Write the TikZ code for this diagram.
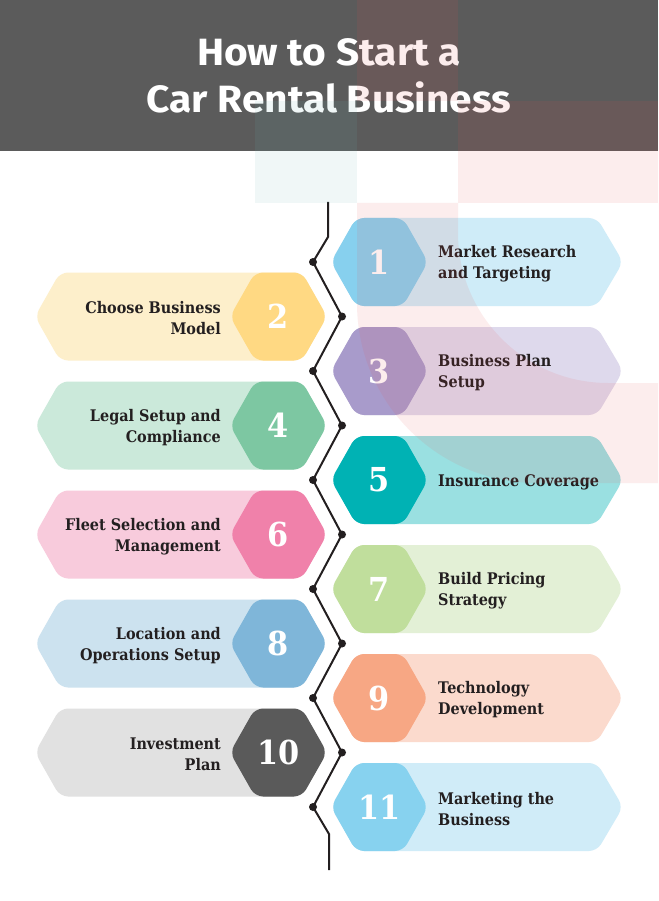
\documentclass[tikz,border=0pt]{standalone}
\usepackage{fontspec}
\newfontfamily\titlefont{Fira Sans}[FakeStretch=1.07]
\newfontfamily\labelfont{DejaVu Serif}[FakeStretch=0.9]
\newfontfamily\numfont{DejaVu Serif}[FakeStretch=0.92]
\definecolor{hdr}{HTML}{5B5B5B}
\definecolor{ink}{HTML}{231F20}
\definecolor{decopink}{RGB}{235,80,80}
\definecolor{decoteal}{RGB}{110,180,180}
\definecolor{nA}{HTML}{87D0EE}\definecolor{pA}{HTML}{CFECF8}
\definecolor{nB}{HTML}{FFD983}\definecolor{pB}{HTML}{FDEFCB}
\definecolor{nC}{HTML}{A89BCB}\definecolor{pC}{HTML}{DED9EC}
\definecolor{nD}{HTML}{7DC7A2}\definecolor{pD}{HTML}{CBE9DA}
\definecolor{nE}{HTML}{00B2B4}\definecolor{pE}{HTML}{9AE0E1}
\definecolor{nF}{HTML}{F081AA}\definecolor{pF}{HTML}{F8CBDC}
\definecolor{nG}{HTML}{C0DE9C}\definecolor{pG}{HTML}{E3F0D6}
\definecolor{nH}{HTML}{7FB6D9}\definecolor{pH}{HTML}{CCE2EF}
\definecolor{nI}{HTML}{F7A784}\definecolor{pI}{HTML}{FBDACD}
\definecolor{nJ}{HTML}{5A5A5A}\definecolor{pJ}{HTML}{E1E1E1}
\definecolor{nK}{HTML}{87D2EF}\definecolor{pK}{HTML}{D0ECF8}
\tikzset{
  hexshape/.style={rounded corners=8pt},
  numtxt/.style={text=white, inner sep=0pt, font=\numfont\bfseries\fontsize{33}{33}\selectfont},
  rlabel/.style={anchor=west, align=left, inner sep=0pt, text=ink, font=\labelfont\bfseries\fontsize{16}{21}\selectfont},
  llabel/.style={anchor=east, align=right, inner sep=0pt, text=ink, font=\labelfont\bfseries\fontsize{16}{21}\selectfont},
  titletxt/.style={text=white, inner sep=0pt, anchor=base, font=\titlefont\bfseries\fontsize{38}{38}\selectfont},
  zigline/.style={draw=ink, line width=2pt},
  dotmark/.style={fill=ink},
  deco/.style={fill opacity=0.1}
}
% #1 name, #2 centre y, #3 dark colour, #4 light colour, #5 number, #6 label
\newcommand\ritem[6]{%
  \fill[#4, hexshape] (331,#2) -- (356,#2-44) -- (597,#2-44) -- (623,#2) -- (597,#2+44) -- (356,#2+44) -- cycle;
  \fill[#3, hexshape] (331,#2) -- (356,#2-44) -- (403,#2-44) -- (428,#2) -- (403,#2+44) -- (356,#2+44) -- cycle;
  \node[numtxt] (#1n) at (379.5,#2) {#5};
  \node[rlabel] (#1t) at (438,#2+2) {#6};
  \coordinate (#1d) at (313,#2);
}
\newcommand\litem[6]{%
  \fill[#4, hexshape] (35,#2) -- (60,#2-44) -- (302,#2-44) -- (327,#2) -- (302,#2+44) -- (60,#2+44) -- cycle;
  \fill[#3, hexshape] (230,#2) -- (255,#2-44) -- (302,#2-44) -- (327,#2) -- (302,#2+44) -- (255,#2+44) -- cycle;
  \node[numtxt] (#1n) at (278.5,#2) {#5};
  \node[llabel] (#1t) at (221,#2+2) {#6};
  \coordinate (#1d) at (342,#2);
}
\begin{document}
\begin{tikzpicture}[x=1pt, y=-1pt]
\useasboundingbox (0,0) rectangle (658,901);
\fill[white] (0,0) rectangle (658,901);
\fill[hdr] (0,0) rectangle (658,151);
\node[titletxt] (title1) at (329,66) {How to Start a};
\node[titletxt] (title2) at (329,113) {Car Rental Business};

\ritem{i1}{262}{nA}{pA}{1}{Market Research\\and Targeting}
\litem{i2}{316.5}{nB}{pB}{2}{Choose Business\\Model}
\ritem{i3}{371}{nC}{pC}{3}{Business Plan\\Setup}
\litem{i4}{425.5}{nD}{pD}{4}{Legal Setup and\\Compliance}
\ritem{i5}{480}{nE}{pE}{5}{Insurance Coverage}
\litem{i6}{534.5}{nF}{pF}{6}{Fleet Selection and\\Management}
\ritem{i7}{589}{nG}{pG}{7}{Build Pricing\\Strategy}
\litem{i8}{643.5}{nH}{pH}{8}{Location and\\Operations Setup}
\ritem{i9}{698}{nI}{pI}{9}{Technology\\Development}
\litem{i10}{752.5}{nJ}{pJ}{10}{Investment\\Plan}
\ritem{i11}{807}{nK}{pK}{11}{Marketing the\\Business}

\coordinate (ztop) at (328,202);
\coordinate (zt1) at (328,237);
\coordinate (zb1) at (329,834);
\coordinate (zbot) at (329,870);
\draw[zigline] (ztop) -- (zt1) -- (i1d) -- (i2d) -- (i3d) -- (i4d) -- (i5d) -- (i6d)
  -- (i7d) -- (i8d) -- (i9d) -- (i10d) -- (i11d) -- (zb1) -- (zbot);
\foreach \k in {1,...,11}{\fill[dotmark] (i\k d) circle (4);}

% translucent decorative blocks
\fill[decopink, deco] (357,0) rectangle (458,101);
\fill[decopink, deco] (458,101) rectangle (658,203);
\fill[decoteal, deco] (255,101) rectangle (357,203);
\fill[decopink, deco] (357,203) -- (458,203) -- (458,233)
  arc[start angle=180, end angle=90, radius=150] -- (658,383) -- (658,483) -- (537,483)
  arc[start angle=90, end angle=180, radius=180] -- cycle;
\end{tikzpicture}
\end{document}
